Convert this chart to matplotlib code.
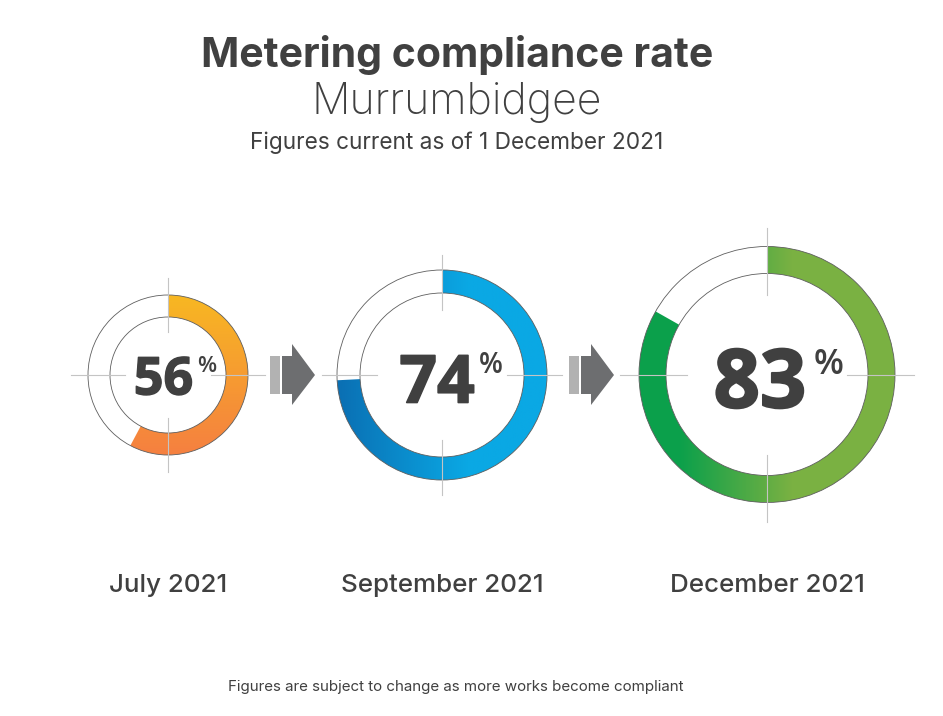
import numpy as np
import matplotlib
matplotlib.use('Agg')
import matplotlib.pyplot as plt
import matplotlib.patheffects as pe
from matplotlib.colors import LinearSegmentedColormap
from matplotlib.patches import Wedge, Circle, Polygon, Rectangle

months = ['July 2021', 'September 2021', 'December 2021']
rates = [56, 74, 83]
# share of the ring that is coloured, as drawn in the picture
arc_pct = [57.8, 74.2, 83.2]

# layout, in pixels of the original picture
centers = [(168, 375), (442, 375), (767, 374.5)]
outer = [80, 105, 128]
inner = [58, 82, 101]
line_ext = [97, 120, 147]
line_back = [43, 65, 80]
num_size = [37.5, 47.5, 58.5]
num_pos = [(163.5, 394.5), (437, 402.5), (760, 407.5)]
num_stroke = [1.0, 1.2, 1.5]
pct_size = [16, 20, 25]
pct_pos = [(207, 372), (491, 373), (829, 374)]
colors = [('#F8BF1E', '#F58040'), ('#0A6FB3', '#0AA8E4'), ('#0BA04B', '#7AB142')]

plt.rcParams['font.family'] = ['Inter', 'DejaVu Sans']
TXT = '#404040'

fig = plt.figure(figsize=(9.43, 7.16), dpi=100)
ax = fig.add_axes([0, 0, 1, 1])
ax.set_xlim(0, 943)
ax.set_ylim(716, 0)
ax.axis('off')


def donut(i, pct):
    cx, cy = centers[i]
    ro, ri = outer[i], inner[i]
    # y axis is flipped, so angles run clockwise from the top
    start = -90
    end = -90 + 360 * pct / 100
    w = Wedge((cx, cy), ro, start, end, width=ro - ri, transform=ax.transData, fc='none', ec='none')
    ax.add_patch(w)
    cmap = LinearSegmentedColormap.from_list('g%d' % i, colors[i])
    if i == 0:
        grad = np.linspace(0.12, 1, 256).reshape(-1, 1)
    elif i == 1:
        grad = np.clip(np.linspace(0, 1.6, 256), 0, 1).reshape(1, -1)
    else:
        grad = np.clip(np.linspace(-0.35, 1.9, 256), 0, 1).reshape(1, -1)
    ext = (cx - ro, cx + ro, cy + ro, cy - ro)
    im = ax.imshow(grad, cmap=cmap, vmin=0, vmax=1, extent=ext, aspect='auto', zorder=2)
    im.set_clip_path(w)
    # outlines of both rings
    for r in (ro, ri):
        ax.add_patch(Circle((cx, cy), r, fc='none', ec='#5E5E5E', lw=0.6, zorder=3))


def crosshair(i):
    cx, cy = centers[i]
    ext = line_ext[i]
    back = line_back[i]
    kw = dict(color='#C4C4C4', lw=0.8, zorder=4)
    ax.plot([cx - ext, cx - back], [cy, cy], **kw)
    ax.plot([cx + back, cx + ext], [cy, cy], **kw)
    ax.plot([cx, cx], [cy - ext, cy - back], **kw)
    ax.plot([cx, cx], [cy + back, cy + ext], **kw)


for i, pct in enumerate(arc_pct):
    donut(i, pct)
    crosshair(i)
    t = ax.text(num_pos[i][0], num_pos[i][1], str(rates[i]), fontsize=num_size[i], fontweight='bold',
                family='Open Sans', color=TXT, ha='center', va='baseline', zorder=5)
    # the digits in the picture are heavier than Open Sans Bold
    t.set_path_effects([pe.withStroke(linewidth=num_stroke[i], foreground=TXT)])
    ax.text(pct_pos[i][0], pct_pos[i][1], '%', fontsize=pct_size[i], fontweight='semibold',
            family='Open Sans', color=TXT, ha='center', va='baseline', zorder=5)
    ax.text(centers[i][0], 592, months[i], fontsize=18.7, fontweight='medium', color=TXT, ha='center', va='baseline')

# arrows between the rings
for x0 in (270, 569):
    ax.add_patch(Rectangle((x0, 356), 10, 38, fc='#B2B2B2', ec='none'))
    ax.add_patch(Polygon([(x0 + 12, 356), (x0 + 22, 356), (x0 + 22, 344), (x0 + 45, 375),
                          (x0 + 22, 405), (x0 + 22, 394), (x0 + 12, 394)], closed=True, fc='#6D6E70', ec='none'))

ax.text(457, 67, 'Metering compliance rate', fontsize=29.5, fontweight='bold', color=TXT, ha='center', va='baseline')
ax.text(457, 114, 'Murrumbidgee', fontsize=30.9, fontweight='light', color=TXT, ha='center', va='baseline')
ax.text(457, 149, 'Figures current as of 1 December 2021', fontsize=16.3, color=TXT, ha='center', va='baseline')
ax.text(455.5, 691, 'Figures are subject to change as more works become compliant', fontsize=10.9, color=TXT,
        ha='center', va='baseline')

fig.savefig('out.png', dpi=100)
